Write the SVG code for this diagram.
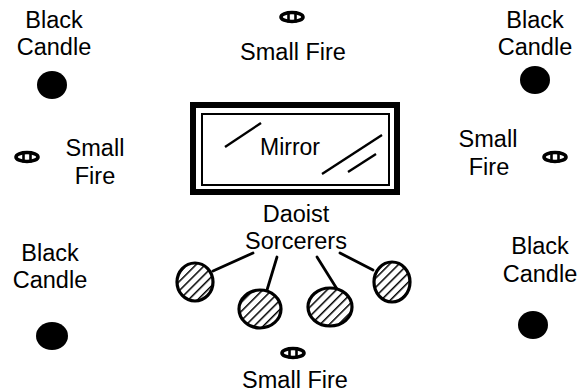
<svg xmlns="http://www.w3.org/2000/svg" width="588" height="392" viewBox="0 0 588 392">
<style>
text{font-family:"Liberation Sans",Arial,sans-serif;font-size:23.5px;fill:#000;text-anchor:middle}
.candle{fill:#000}
.sorc{fill:url(#hatch);stroke:#000;stroke-width:3.2}
.conn{stroke:#000;stroke-width:2.8;stroke-linecap:round;fill:none}
</style>
<defs>
<pattern id="hatch" patternUnits="userSpaceOnUse" width="6.5" height="6.5" patternTransform="rotate(45)">
<rect width="6.5" height="6.5" fill="#fff"/>
<line x1="0" y1="0" x2="0" y2="6.5" stroke="#000" stroke-width="3"/>
</pattern>
<g id="fire">
<ellipse cx="0" cy="0" rx="11" ry="4.5" fill="#fff" stroke="#000" stroke-width="3.6"/>
<line x1="-3.5" y1="-5.5" x2="-3.5" y2="5.5" stroke="#000" stroke-width="2.6"/>
<line x1="3.5" y1="-5.5" x2="3.5" y2="5.5" stroke="#000" stroke-width="2.6"/>
</g>
</defs>
<rect width="588" height="392" fill="#fff"/>

<g id="candle-tl"><text x="54" y="28">Black</text><text x="54" y="55">Candle</text><ellipse class="candle" cx="52" cy="85" rx="15" ry="14"/></g>
<g id="candle-tr"><text x="535" y="28">Black</text><text x="535" y="55">Candle</text><ellipse class="candle" cx="535" cy="80" rx="15" ry="14"/></g>
<g id="candle-bl"><text x="50" y="261">Black</text><text x="50" y="288">Candle</text><ellipse class="candle" cx="52" cy="336" rx="16" ry="14"/></g>
<g id="candle-br"><text x="540" y="254">Black</text><text x="540" y="282">Candle</text><ellipse class="candle" cx="533" cy="325" rx="15" ry="14"/></g>

<g id="fire-top"><use href="#fire" x="292" y="17"/><text x="293" y="60">Small Fire</text></g>
<g id="fire-left"><use href="#fire" x="27" y="157"/><text x="95" y="156">Small</text><text x="95" y="184">Fire</text></g>
<g id="fire-right"><use href="#fire" x="555" y="157"/><text x="488" y="147">Small</text><text x="489" y="175">Fire</text></g>
<g id="fire-bottom"><use href="#fire" x="293" y="353"/><text x="295" y="388">Small Fire</text></g>

<g id="mirror">
<rect x="193" y="105" width="204" height="87" fill="#fff" stroke="#000" stroke-width="6"/>
<rect x="202" y="114" width="187" height="71" fill="none" stroke="#000" stroke-width="2"/>
<line x1="225" y1="147" x2="261" y2="123" stroke="#000" stroke-width="2.4"/>
<line x1="322" y1="174" x2="382" y2="135" stroke="#000" stroke-width="2.4"/>
<line x1="348" y1="172" x2="376" y2="154" stroke="#000" stroke-width="2.4"/>
<text x="290" y="155" style="font-size:23px">Mirror</text>
</g>

<g id="sorcerers-label"><text x="296" y="222">Daoist</text><text x="296" y="249">Sorcerers</text></g>

<g id="connectors">
<line class="conn" x1="213" y1="271" x2="253" y2="253"/>
<line class="conn" x1="267" y1="290" x2="277" y2="257"/>
<line class="conn" x1="337" y1="289" x2="317" y2="257"/>
<line class="conn" x1="373" y1="270" x2="340" y2="253"/>
</g>

<g id="sorcerer-1"><ellipse class="sorc" cx="195" cy="282" rx="18" ry="19"/></g>
<g id="sorcerer-2"><ellipse class="sorc" cx="260" cy="309" rx="21" ry="19"/></g>
<g id="sorcerer-3"><ellipse class="sorc" cx="330" cy="307" rx="22" ry="19"/></g>
<g id="sorcerer-4"><ellipse class="sorc" cx="392" cy="282" rx="18" ry="20"/></g>
</svg>
